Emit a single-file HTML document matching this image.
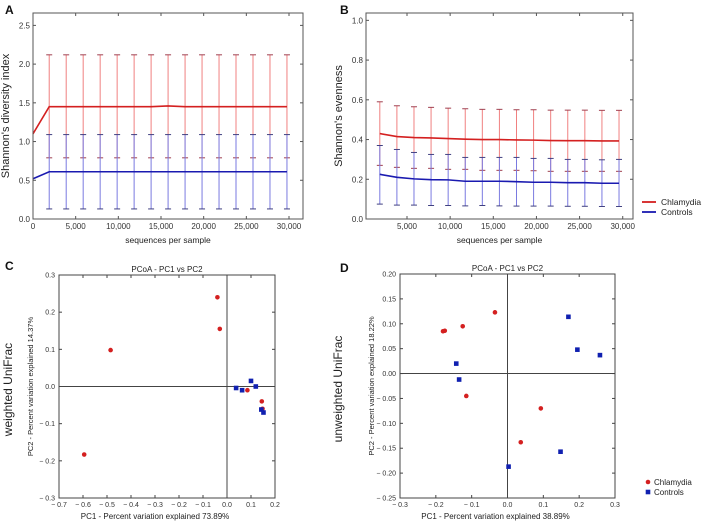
<!DOCTYPE html>
<html><head><meta charset="utf-8">
<style>
body{margin:0;background:#fff;width:708px;height:526px;overflow:hidden;font-family:"Liberation Sans","DejaVu Sans",sans-serif}
svg text{font-family:"Liberation Sans","DejaVu Sans",sans-serif}
</style></head>
<body>
<svg id="fig" width="708" height="526" viewBox="0 0 708 526" xmlns="http://www.w3.org/2000/svg"></svg>
<script>
// Panel A data
const aX = [0,1900,3890,5880,7870,9860,11850,13840,15830,17820,19810,21800,23790,25780,27770,29760];
const aRed = [1.10,1.45,1.45,1.45,1.45,1.45,1.45,1.45,1.46,1.45,1.45,1.45,1.45,1.45,1.45,1.45];
const aRedLo = [null,0.79,0.79,0.79,0.79,0.79,0.79,0.79,0.79,0.79,0.79,0.79,0.79,0.79,0.79,0.79];
const aRedHi = [null,2.12,2.12,2.12,2.12,2.12,2.12,2.12,2.12,2.12,2.12,2.12,2.12,2.12,2.12,2.12];
const aBlue = [0.52,0.61,0.61,0.61,0.61,0.61,0.61,0.61,0.61,0.61,0.61,0.61,0.61,0.61,0.61,0.61];
const aBlueLo = [null,0.13,0.13,0.13,0.13,0.13,0.13,0.13,0.13,0.13,0.13,0.13,0.13,0.13,0.13,0.13];
const aBlueHi = [null,1.09,1.09,1.09,1.09,1.09,1.09,1.09,1.09,1.09,1.09,1.09,1.09,1.09,1.09,1.09];
const aYTicks = [0,0.5,1.0,1.5,2.0,2.5];
const aXTicks = [0,5000,10000,15000,20000,25000,30000];
// Panel B data
const bX = [1850,3830,5810,7790,9770,11750,13730,15710,17690,19670,21650,23630,25610,27590,29570];
const bRed = [0.43,0.415,0.41,0.408,0.405,0.402,0.4,0.4,0.398,0.397,0.395,0.394,0.394,0.393,0.393];
const bRedHi = [0.59,0.57,0.565,0.562,0.558,0.555,0.552,0.552,0.55,0.55,0.548,0.548,0.548,0.547,0.547];
const bRedLo = [0.27,0.26,0.255,0.255,0.25,0.25,0.245,0.245,0.245,0.243,0.24,0.24,0.24,0.24,0.24];
const bBlue = [0.225,0.21,0.202,0.198,0.197,0.19,0.19,0.19,0.188,0.185,0.185,0.183,0.183,0.18,0.18];
const bBlueHi = [0.37,0.35,0.335,0.325,0.325,0.31,0.31,0.31,0.31,0.305,0.305,0.3,0.3,0.298,0.3];
const bBlueLo = [0.075,0.07,0.07,0.068,0.068,0.066,0.068,0.066,0.065,0.065,0.065,0.064,0.064,0.063,0.063];
const bYTicks = [0,0.2,0.4,0.6,0.8,1.0];
const bXTicks = [5000,10000,15000,20000,25000,30000];
// Panel C data
const cRedX = [-0.04,-0.03,-0.485,-0.595,0.085,0.145,0.148];
const cRedY = [0.24,0.155,0.098,-0.183,-0.01,-0.04,-0.06];
const cBlueX = [0.1,0.12,0.038,0.063,0.143,0.152];
const cBlueY = [0.015,0,-0.004,-0.01,-0.062,-0.07];
const cXTicks = [-0.7,-0.6,-0.5,-0.4,-0.3,-0.2,-0.1,0.0,0.1,0.2];
const cYTicks = [-0.3,-0.2,-0.1,0.0,0.1,0.2,0.3];
// Panel D data
const dRedX = [-0.18,-0.175,-0.125,-0.035,-0.115,0.093,0.037];
const dRedY = [0.085,0.086,0.095,0.123,-0.045,-0.07,-0.138];
const dBlueX = [0.17,0.195,0.258,-0.143,-0.135,0.003,0.148];
const dBlueY = [0.114,0.048,0.037,0.02,-0.012,-0.187,-0.157];
const dXTicks = [-0.3,-0.2,-0.1,0.0,0.1,0.2,0.3];
const dYTicks = [-0.25,-0.20,-0.15,-0.10,-0.05,0.00,0.05,0.10,0.15,0.20];

const NS='http://www.w3.org/2000/svg';
const svg=document.getElementById('fig');
function el(tag,attrs,parent,txt){const e=document.createElementNS(NS,tag);for(const k in attrs)e.setAttribute(k,attrs[k]);if(txt!==undefined)e.textContent=txt;(parent||svg).appendChild(e);return e;}
function scale(d0,d1,r0,r1){return v=>r0+(v-d0)/(d1-d0)*(r1-r0);}
function fmtK(v){return v.toLocaleString('en-US');}

function linePanel(name,box,xd,yd,xt,yt,yfmt,X,series,ylabel){
  const g=el('g',{},svg);
  
  
  const sx=scale(xd[0],xd[1],box.x0,box.x1), sy=scale(yd[0],yd[1],box.y1,box.y0);
  series.forEach(s=>{
    X.forEach((x,i)=>{
      if(s.lo[i]==null)return;
      const xx=sx(x);
      const eb=el('line',{x1:xx,x2:xx,y1:sy(s.lo[i]),y2:sy(s.hi[i]),stroke:s.light,'stroke-width':1},g);
      
      
      [s.lo[i],s.hi[i]].forEach(v=>{el('line',{x1:xx-3,x2:xx+3,y1:sy(v),y2:sy(v),stroke:s.cap,'stroke-width':1},g);});
    });
  });
  series.forEach(s=>{
    const p=el('polyline',{points:X.map((x,i)=>sx(x)+','+sy(s.v[i])).join(' '),fill:'none',stroke:s.col,'stroke-width':1.6},g);
    
    
  });
  const fr=el('rect',{x:box.x0,y:box.y0,width:box.x1-box.x0,height:box.y1-box.y0,fill:'none',stroke:'#555','stroke-width':1},g);
  
  
  yt.forEach(v=>{const y=sy(v);el('line',{x1:box.x0,x2:box.x0+3,y1:y,y2:y,stroke:'#555'},g);el('line',{x1:box.x1,x2:box.x1-3,y1:y,y2:y,stroke:'#555'},g);
    const t=el('text',{x:box.x0-3,y:y+3,'font-size':8,'text-anchor':'end',fill:'#333'},g,yfmt(v));
    
    });
  xt.forEach(v=>{const x=sx(v);el('line',{x1:x,x2:x,y1:box.y1,y2:box.y1-3,stroke:'#555'},g);el('line',{x1:x,x2:x,y1:box.y0,y2:box.y0+3,stroke:'#555'},g);
    const t=el('text',{x:x,y:box.y1+10,'font-size':8,'text-anchor':'middle',fill:'#333'},g,fmtK(v));
    
    });
  const xl=el('text',{x:(box.x0+box.x1)/2,y:box.y1+24,'font-size':8.5,'text-anchor':'middle',fill:'#222'},g,'sequences per sample');
  
  
  const yl=el('text',{x:0,y:0,'font-size':11,'text-anchor':'middle',fill:'#222',transform:`translate(${box.x0-24},${(box.y0+box.y1)/2}) rotate(-90)`},g,ylabel);
  
  
}

function scatterPanel(name,box,xd,yd,xt,yt,xf,yf,red,blue,pc1,pc2,big,bigX){
  const g=el('g',{},svg);
  
  
  const sx=scale(xd[0],xd[1],box.x0,box.x1), sy=scale(yd[0],yd[1],box.y1,box.y0);
  el('rect',{x:box.x0,y:box.y0,width:box.x1-box.x0,height:box.y1-box.y0,fill:'none',stroke:'#444','stroke-width':1},g);
  el('line',{x1:sx(0),x2:sx(0),y1:box.y0,y2:box.y1,stroke:'#444'},g);
  el('line',{x1:box.x0,x2:box.x1,y1:sy(0),y2:sy(0),stroke:'#444'},g);
  yt.forEach(v=>{const y=sy(v);el('line',{x1:box.x0,x2:box.x0+3,y1:y,y2:y,stroke:'#444'},g);el('line',{x1:box.x1,x2:box.x1-3,y1:y,y2:y,stroke:'#444'},g);
    const t=el('text',{x:box.x0-4,y:y+2.5,'font-size':7,'text-anchor':'end',fill:'#333'},g,yf(v));
    
    });
  xt.forEach(v=>{const x=sx(v);el('line',{x1:x,x2:x,y1:box.y1,y2:box.y1-3,stroke:'#444'},g);el('line',{x1:x,x2:x,y1:box.y0,y2:box.y0+3,stroke:'#444'},g);
    const t=el('text',{x:x,y:box.y1+9,'font-size':7,'text-anchor':'middle',fill:'#333'},g,xf(v));
    
    });
  red[0].forEach((x,i)=>{const c=el('circle',{cx:sx(x),cy:sy(red[1][i]),r:2.3,fill:'#d42020'},g);
    
    });
  blue[0].forEach((x,i)=>{const r=el('rect',{x:sx(x)-2.3,y:sy(blue[1][i])-2.3,width:4.6,height:4.6,fill:'#1020b0'},g);
    
    });
  const ti=el('text',{x:(box.x0+box.x1)/2,y:box.y0-3,'font-size':8,'text-anchor':'middle',fill:'#222'},g,'PCoA - PC1 vs PC2');
  
  
  const xl=el('text',{x:(box.x0+box.x1)/2-12,y:box.y1+21,'font-size':8,'text-anchor':'middle',fill:'#222'},g,pc1);
  
  
  const yl=el('text',{x:0,y:0,'font-size':7.5,'text-anchor':'middle',fill:'#222',transform:`translate(${box.x0-26},${(box.y0+box.y1)/2}) rotate(-90)`},g,pc2);
  
  
  const bl=el('text',{x:0,y:0,'font-size':12,'text-anchor':'middle',fill:'#222',transform:`translate(${bigX},${(box.y0+box.y1)/2+3}) rotate(-90)`},g,big);
  
  
}

const RED={col:'#d42020',light:'#f08080',cap:'#a04050'}, BLUE={col:'#1a1ab0',light:'#7a7ae0',cap:'#404080'};
linePanel('panel-a-chart',{x0:33,x1:303,y0:13,y1:219},[0,31640],[0,2.66],aXTicks,aYTicks,v=>v.toFixed(1),aX,
  [{key:'chlamydia',v:aRed,lo:aRedLo,hi:aRedHi,...RED},{key:'controls',v:aBlue,lo:aBlueLo,hi:aBlueHi,...BLUE}],"Shannon's diversity index");
linePanel('panel-b-chart',{x0:366,x1:633,y0:13,y1:219},[250,31190],[0,1.037],bXTicks,bYTicks,v=>v.toFixed(1),bX,
  [{key:'chlamydia',v:bRed,lo:bRedLo,hi:bRedHi,...RED},{key:'controls',v:bBlue,lo:bBlueLo,hi:bBlueHi,...BLUE}],"Shannon's evenness");
scatterPanel('panel-c-chart',{x0:59,x1:275,y0:275,y1:498},[-0.7,0.2],[-0.3,0.3],cXTicks,cYTicks,
  v=>v.toFixed(1).replace('-','− '),v=>v.toFixed(1).replace('-','− '),[cRedX,cRedY],[cBlueX,cBlueY],
  'PC1 - Percent variation explained 73.89%','PC2 - Percent variation explained 14.37%','weighted UniFrac',12);
scatterPanel('panel-d-chart',{x0:400,x1:615,y0:274,y1:498},[-0.3,0.3],[-0.25,0.2],dXTicks,dYTicks,
  v=>v.toFixed(1).replace('-','− '),v=>v.toFixed(2).replace('-','− '),[dRedX,dRedY],[dBlueX,dBlueY],
  'PC1 - Percent variation explained 38.89%','PC2 - Percent variation explained 18.22%','unweighted UniFrac',342);

// panel letters
[['A',5,14],['B',340,14],['C',5,270],['D',340,272]].forEach(([t,x,y])=>{
  const e=el('text',{x:x,y:y,'font-size':12,'font-weight':'bold',fill:'#111'},svg,t);
  
  
});
// legend B
const lgB=el('g',{},svg);


[['Chlamydia','#d42020',202],['Controls','#1a1ab0',212]].forEach(([t,c,y])=>{
  el('line',{x1:642,x2:656,y1:y,y2:y,stroke:c,'stroke-width':1.8},lgB);
  const e=el('text',{x:661,y:y+3,'font-size':8.5,fill:'#222'},lgB,t);
  
  
});
// legend D
const lgD=el('g',{},svg);


el('circle',{cx:648,cy:482,r:2.3,fill:'#d42020'},lgD);
el('rect',{x:645.7,y:489.7,width:4.6,height:4.6,fill:'#1020b0'},lgD);
[['Chlamydia',482],['Controls',492]].forEach(([t,y])=>{
  const e=el('text',{x:654,y:y+3,'font-size':8,fill:'#222'},lgD,t);
  
  
});
</script>
</body></html>
